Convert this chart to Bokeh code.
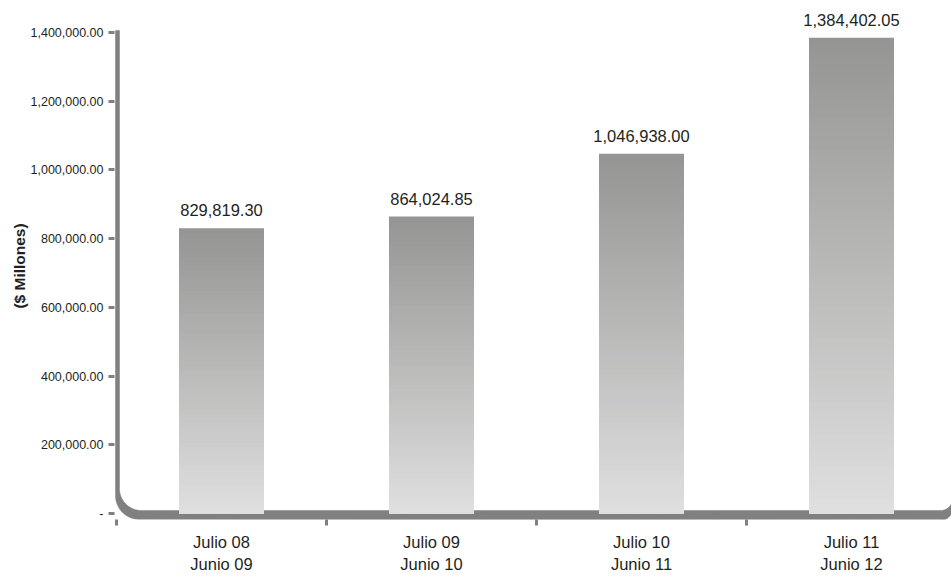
import numpy as np
from bokeh.plotting import figure
from bokeh.models import ColumnDataSource, Range1d, FixedTicker, NumeralTickFormatter
from bokeh.embed import file_html
from bokeh.resources import INLINE
from bokeh.core.properties import value

# ---------------- data ----------------
period_start = ["Julio 08", "Julio 09", "Julio 10", "Julio 11"]
period_end = ["Junio 09", "Junio 10", "Junio 11", "Junio 12"]
amounts = [829819.30, 864024.85, 1046938.00, 1384402.05]
y_ticks = [0, 200000, 400000, 600000, 800000, 1000000, 1200000, 1400000]
y_title = "($ Millones)"

# ---------------- style ----------------
FONT = "Liberation Sans"
TEXT = "#231f20"
AXIS_GRAY = "#808080"
TOP_COLOR = (0x95, 0x95, 0x93)
BOTTOM_COLOR = (0xdf, 0xdf, 0xdf)

W, H = 951, 576
BORDER_L, BORDER_T, BORDER_R, BORDER_B = 114, 12, 0, 55
PX_PER_CAT = 210.0
UPP = 200000 / 69.0          # data units per pixel (vertical)
PX_X0 = 116                  # pixel of x = 0
PX_Y0 = 515                  # pixel of y = 0


def fx(px):
    return (px - PX_X0) / PX_PER_CAT


def fy(py):
    return (PX_Y0 - py) * UPP


p = figure(width=W, height=H, output_backend="svg", toolbar_location=None,
           x_range=Range1d(fx(BORDER_L), fx(W - BORDER_R)),
           y_range=Range1d(fy(H - BORDER_B), fy(BORDER_T)))
p.min_border_left = BORDER_L
p.min_border_top = BORDER_T
p.min_border_right = BORDER_R
p.min_border_bottom = BORDER_B
p.outline_line_color = None
p.xgrid.visible = False
p.ygrid.visible = False
p.background_fill_color = "white"
p.border_fill_color = "white"

# ---------------- rounded L-shaped frame ----------------
def arc(cx, cy, r, a0, a1, n=24):
    t = np.radians(np.linspace(a0, a1, n))
    return list(cx + r * np.cos(t)), list(cy + r * np.sin(t))

xs, ys = [], []
xs += [115]; ys += [30]
ax, ay = arc(139, 497, 24, 180, 90); xs += ax; ys += ay
ax, ay = arc(940, 510, 12, 90, 0); xs += ax; ys += ay
ax, ay = arc(940, 500, 12, 0, 90); xs += ax; ys += ay
ax, ay = arc(141, 490, 22, 90, 180); xs += ax; ys += ay
xs += [119]; ys += [30]
p.patch([fx(v) for v in xs], [fy(v) for v in ys], fill_color=AXIS_GRAY,
        line_color=AXIS_GRAY, line_width=0.5)

# ---------------- gradient bars ----------------
centers = [i + 0.5 for i in range(len(amounts))]
N = 60
bx, btop, bcol = [], [], []
for k in range(N):
    f = k / (N - 1)
    c = tuple(int(round(TOP_COLOR[j] + (BOTTOM_COLOR[j] - TOP_COLOR[j]) * f)) for j in range(3))
    col = "#%02x%02x%02x" % c
    for xc, v in zip(centers, amounts):
        bx.append(xc)
        btop.append(v * (1 - k / N))
        bcol.append(col)
bars = ColumnDataSource(dict(x=bx, top=btop, color=bcol))
p.vbar(x="x", top="top", bottom=0, width=85 / PX_PER_CAT, source=bars,
       fill_color="color", line_color=None)

# ---------------- value labels ----------------
lab = ColumnDataSource(dict(x=centers, y=amounts, t=[f"{v:,.2f}" for v in amounts]))
p.text(x="x", y="y", text="t", source=lab, text_align="center",
       text_baseline="alphabetic", y_offset=-18, text_color=TEXT,
       text_font=value(FONT), text_font_size="16.5px")

# ---------------- y axis ----------------
ya = p.yaxis[0]
ya.ticker = FixedTicker(ticks=y_ticks, minor_ticks=[])
ya.formatter = NumeralTickFormatter(format="0,0.00")
ya.major_label_overrides = {0: "-"}
ya.axis_line_color = None
ya.major_tick_line_color = AXIS_GRAY
ya.major_tick_line_width = 3
ya.major_tick_out = 6
ya.major_tick_in = 0
ya.minor_tick_line_color = None
ya.major_label_standoff = 5
ya.major_label_text_font = FONT
ya.major_label_text_font_size = "12.5px"
ya.major_label_text_color = TEXT
ya.axis_label = y_title
ya.axis_label_standoff = 0
ya.axis_label_text_font = FONT
ya.axis_label_text_font_style = "bold"
ya.axis_label_text_font_size = "15.5px"
ya.axis_label_text_color = TEXT

# ---------------- x axis ----------------
xa = p.xaxis[0]
xa.ticker = FixedTicker(ticks=centers, minor_ticks=[float(i) for i in range(len(amounts))])
xa.major_label_overrides = {c: f"{a}\n{b}" for c, a, b in zip(centers, period_start, period_end)}
xa.axis_line_color = None
xa.major_tick_line_color = None
xa.major_tick_out = 0
xa.major_tick_in = 0
xa.minor_tick_line_color = AXIS_GRAY
xa.minor_tick_line_width = 3
xa.minor_tick_out = 6
xa.minor_tick_in = 0
xa.major_label_standoff = 7
xa.major_label_text_font = FONT
xa.major_label_text_font_size = "16.5px"
xa.major_label_text_line_height = 1.25
xa.major_label_text_color = TEXT

open("out.html", "w").write(file_html(p, INLINE))
